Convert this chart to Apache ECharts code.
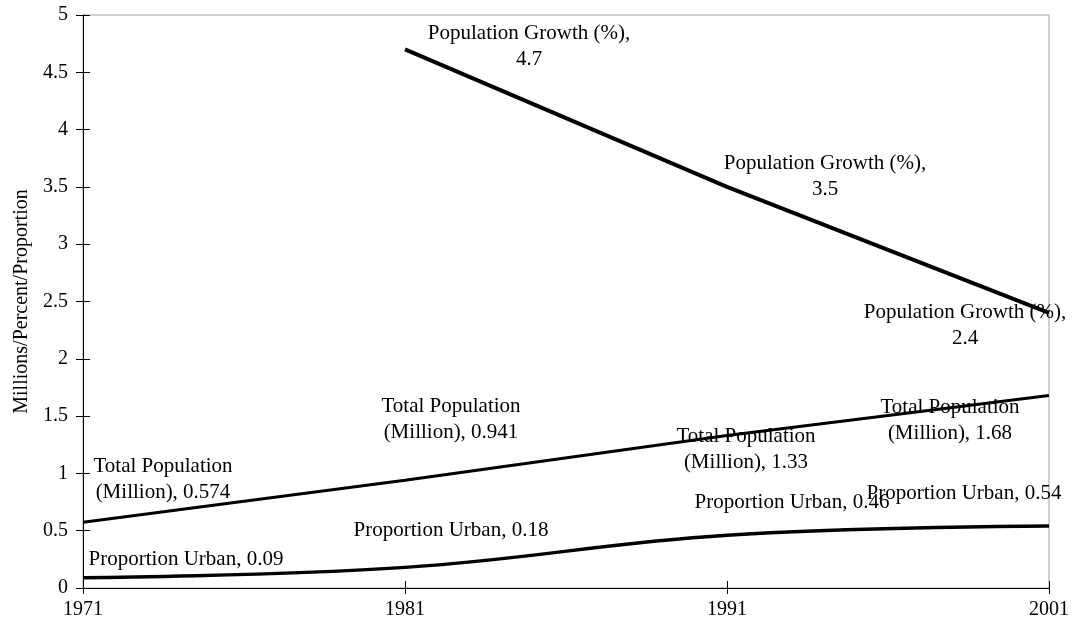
<!DOCTYPE html>
<html>
<head>
<meta charset="utf-8">
<script src="https://cdn.jsdelivr.net/npm/echarts@6/dist/echarts.min.js"></script>
<style>html,body{margin:0;padding:0;background:#fff}#c{width:1087px;height:630px}</style>
</head>
<body>
<div id="c"></div>
<script>
const years = ['1971', '1981', '1991', '2001'];
const populationGrowth = [null, 4.7, 3.5, 2.4];
const totalPopulation = [0.574, 0.941, 1.33, 1.68];
const proportionUrban = [0.09, 0.18, 0.46, 0.54];
const yTicks = { min: 0, max: 5, interval: 0.5 };

const FONT = 'Liberation Serif';
const GRID = { left: 83, right: 38, top: 15, bottom: 42 };
const W = 1087, H = 630;
const gw = W - GRID.left - GRID.right, gh = H - GRID.top - GRID.bottom;

// label offsets (px) of each data label relative to its point
const offGrowth = [null, [124, -3], [98, -10], [-84, 13]];
const offTotal = [[80, -43], [46, -61], [19, 14], [-99, 25]];
const offUrban = [[103, -18], [46, -37], [65, -33], [-85, -33]];

function build(vals, offs) {
  return vals.map((v, i) => v == null ? null : {
    value: v,
    label: { offset: offs[i] }
  });
}
const labelBase = {
  show: true, position: 'inside', align: 'center', verticalAlign: 'middle',
  color: '#000', fontFamily: FONT, fontSize: 21, lineHeight: 26
};
const hidden = { symbol: 'circle', symbolSize: 1, itemStyle: { color: 'rgba(0,0,0,0)' } };

const chart = echarts.init(document.getElementById('c'), null, { renderer: 'canvas' });
chart.setOption({
  animation: false,
  backgroundColor: '#fff',
  grid: { left: GRID.left, right: GRID.right, top: GRID.top, bottom: GRID.bottom, show: true, borderColor: '#a0a0a0', borderWidth: 1 },
  xAxis: [{
    type: 'category', data: years, boundaryGap: false, position: 'bottom',
    axisLine: { lineStyle: { color: '#000', width: 1 } },
    axisTick: { show: true, inside: false, length: 6, lineStyle: { color: '#000' } },
    axisLabel: { color: '#000', fontFamily: FONT, fontSize: 20, margin: 12 },
    splitLine: { show: false }
  }, {
    type: 'category', data: years, boundaryGap: false, position: 'top', offset: -gh,
    axisLine: { show: false },
    axisTick: { show: true, inside: false, length: 7, lineStyle: { color: '#000' } },
    axisLabel: { show: false }, splitLine: { show: false }
  }],
  yAxis: [{
    type: 'value', min: yTicks.min, max: yTicks.max, interval: yTicks.interval, position: 'left',
    name: 'Millions/Percent/Proportion', nameLocation: 'middle', nameGap: 50,
    nameTextStyle: { color: '#000', fontFamily: FONT, fontSize: 20 },
    axisLine: { show: true, lineStyle: { color: '#000', width: 1 } },
    axisTick: { show: true, inside: false, length: 7, lineStyle: { color: '#000' } },
    axisLabel: { color: '#000', fontFamily: FONT, fontSize: 20, margin: 15 },
    splitLine: { show: false }
  }, {
    type: 'value', min: yTicks.min, max: yTicks.max, interval: yTicks.interval, position: 'right', offset: -gw,
    axisLine: { show: false },
    axisTick: { show: true, inside: false, length: 7, lineStyle: { color: '#000' } },
    axisLabel: { show: false }, splitLine: { show: false }
  }],
  series: [Object.assign({
    name: 'Population Growth (%)', type: 'line',
    data: build(populationGrowth, offGrowth),
    lineStyle: { color: '#000', width: 4 },
    label: Object.assign({}, labelBase, { formatter: p => 'Population Growth (%),\n' + p.value })
  }, hidden), Object.assign({
    name: 'Total Population (Million)', type: 'line',
    data: build(totalPopulation, offTotal),
    lineStyle: { color: '#000', width: 3 },
    label: Object.assign({}, labelBase, { formatter: p => 'Total Population\n(Million), ' + p.value })
  }, hidden), Object.assign({
    name: 'Proportion Urban', type: 'line',
    data: build(proportionUrban, offUrban), smooth: 0.4,
    lineStyle: { color: '#000', width: 3.5 },
    label: Object.assign({}, labelBase, { formatter: p => 'Proportion Urban, ' + p.value })
  }, hidden)]
});
</script>
</body>
</html>
